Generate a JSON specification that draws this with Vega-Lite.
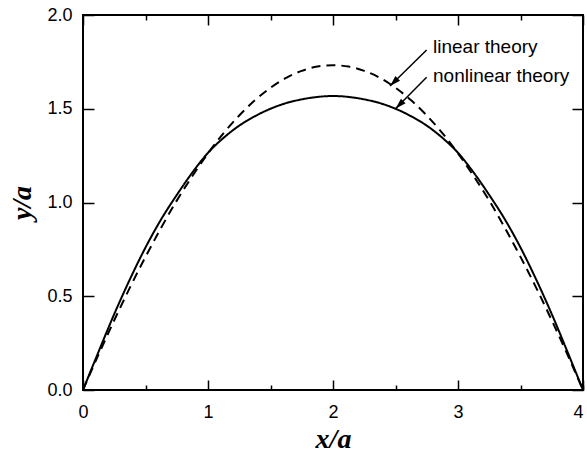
{
  "$schema": "https://vega.github.io/schema/vega-lite/v6.json",
  "width": 500,
  "height": 375,
  "autosize": {"type": "none"},
  "padding": {"left": 83, "top": 15, "right": 4, "bottom": 67},
  "background": "white",
  "config": {
    "view": {"stroke": "black", "strokeWidth": 2},
    "axis": {
      "grid": false,
      "domain": false,
      "tickColor": "black",
      "tickWidth": 1.5,
      "labelColor": "black",
      "labelFont": "Liberation Sans",
      "labelFontSize": 18,
      "labelFlush": false,
      "labelOverlap": false,
      "titleColor": "black",
      "titleFont": "Liberation Serif",
      "titleFontStyle": "italic",
      "titleFontWeight": "bold",
      "titleFontSize": 28
    }
  },
  "datasets": {
    "curves": [
      {"x": 0, "linear": 0, "nonlinear": 0},
      {"x": 0.125, "linear": 0.19, "nonlinear": 0.205},
      {"x": 0.25, "linear": 0.372, "nonlinear": 0.405},
      {"x": 0.375, "linear": 0.546, "nonlinear": 0.59},
      {"x": 0.5, "linear": 0.71, "nonlinear": 0.76},
      {"x": 0.625, "linear": 0.865, "nonlinear": 0.91},
      {"x": 0.75, "linear": 1.01, "nonlinear": 1.04},
      {"x": 0.875, "linear": 1.141, "nonlinear": 1.16},
      {"x": 1, "linear": 1.262, "nonlinear": 1.265},
      {"x": 1.125, "linear": 1.37, "nonlinear": 1.345},
      {"x": 1.25, "linear": 1.464, "nonlinear": 1.41},
      {"x": 1.375, "linear": 1.545, "nonlinear": 1.46},
      {"x": 1.5, "linear": 1.612, "nonlinear": 1.5},
      {"x": 1.625, "linear": 1.665, "nonlinear": 1.53},
      {"x": 1.75, "linear": 1.702, "nonlinear": 1.55},
      {"x": 1.875, "linear": 1.725, "nonlinear": 1.563},
      {"x": 2, "linear": 1.732, "nonlinear": 1.568},
      {"x": 2.125, "linear": 1.725, "nonlinear": 1.563},
      {"x": 2.25, "linear": 1.702, "nonlinear": 1.55},
      {"x": 2.375, "linear": 1.665, "nonlinear": 1.53},
      {"x": 2.5, "linear": 1.612, "nonlinear": 1.5},
      {"x": 2.625, "linear": 1.545, "nonlinear": 1.46},
      {"x": 2.75, "linear": 1.464, "nonlinear": 1.41},
      {"x": 2.875, "linear": 1.37, "nonlinear": 1.345},
      {"x": 3, "linear": 1.262, "nonlinear": 1.265},
      {"x": 3.125, "linear": 1.141, "nonlinear": 1.16},
      {"x": 3.25, "linear": 1.01, "nonlinear": 1.04},
      {"x": 3.375, "linear": 0.865, "nonlinear": 0.91},
      {"x": 3.5, "linear": 0.71, "nonlinear": 0.76},
      {"x": 3.625, "linear": 0.546, "nonlinear": 0.59},
      {"x": 3.75, "linear": 0.372, "nonlinear": 0.405},
      {"x": 3.875, "linear": 0.19, "nonlinear": 0.205},
      {"x": 4, "linear": 0, "nonlinear": 0}
    ],
    "notes": [
      {"label": "linear theory", "tx": 2.8, "ty": 1.797, "ax": 2.749, "ay": 1.813, "ax2": 2.456, "ay2": 1.621},
      {"label": "nonlinear theory", "tx": 2.8, "ty": 1.644, "ax": 2.749, "ay": 1.668, "ax2": 2.5, "ay2": 1.5}
    ]
  },
  "layer": [
    {
      "data": {"name": "curves"},
      "transform": [{"fold": ["linear", "nonlinear"], "as": ["curve", "y"]}],
      "mark": {"type": "line", "color": "black", "strokeWidth": 2, "interpolate": "monotone"},
      "encoding": {
        "x": {
          "field": "x", "type": "quantitative",
          "scale": {"domain": [0, 4], "nice": false, "zero": false},
          "axis": {"orient": "bottom", "values": [0, 1, 2, 3, 4], "labelExpr": "datum.value == 4 ? '' : datum.label", "format": "d", "tickSize": -10, "labelPadding": 23, "title": "x/a", "titlePadding": 4}
        },
        "y": {
          "field": "y", "type": "quantitative",
          "scale": {"domain": [0, 2], "nice": false},
          "axis": {"orient": "left", "values": [0, 0.5, 1, 1.5, 2], "format": ".1f", "tickSize": -11, "labelPadding": 22, "title": "y/a", "titlePadding": 10}
        },
        "detail": {"field": "curve"},
        "strokeDash": {
          "field": "curve", "type": "nominal",
          "scale": {"domain": ["linear", "nonlinear"], "range": [[9, 6], [1, 0]]},
          "legend": null
        }
      }
    },
    {
      "data": {"name": "notes"},
      "mark": {"type": "rule", "color": "black", "strokeWidth": 1.5},
      "encoding": {
        "x": {
          "field": "ax", "type": "quantitative",
          "scale": {"domain": [0, 4], "nice": false, "zero": false},
          "axis": {"orient": "top", "values": [0, 1, 2, 3, 4], "tickSize": -10, "labels": false, "title": null}
        },
        "y": {
          "field": "ay", "type": "quantitative",
          "scale": {"domain": [0, 2], "nice": false},
          "axis": {"orient": "right", "values": [0, 0.5, 1, 1.5, 2], "tickSize": -11, "labels": false, "title": null}
        },
        "x2": {"field": "ax2"},
        "y2": {"field": "ay2"}
      }
    },
    {
      "data": {"name": "notes"},
      "mark": {"type": "point", "shape": "M0,0L-0.3,1L0.3,1Z", "angle": 225, "size": 480, "filled": true, "color": "black", "opacity": 1},
      "encoding": {
        "x": {
          "field": "ax2", "type": "quantitative",
          "scale": {"domain": [0, 4], "nice": false, "zero": false},
          "axis": {"orient": "bottom", "values": [0.5, 1.5, 2.5, 3.5, 4], "labelExpr": "datum.value == 4 ? '4' : ''", "labelFlush": true, "tickSize": -5, "labelPadding": 18, "title": null}
        },
        "y": {
          "field": "ay2", "type": "quantitative",
          "scale": {"domain": [0, 2], "nice": false},
          "axis": null
        }
      }
    },
    {
      "data": {"name": "notes"},
      "mark": {"type": "text", "align": "left", "baseline": "alphabetic", "font": "Liberation Sans", "fontSize": 19, "color": "black"},
      "encoding": {
        "x": {
          "field": "tx", "type": "quantitative",
          "scale": {"domain": [0, 4], "nice": false, "zero": false},
          "axis": {"orient": "top", "values": [0.5, 1.5, 2.5, 3.5], "tickSize": -5, "labels": false, "title": null}
        },
        "y": {
          "field": "ty", "type": "quantitative",
          "scale": {"domain": [0, 2], "nice": false},
          "axis": null
        },
        "text": {"field": "label"}
      }
    }
  ]
}
